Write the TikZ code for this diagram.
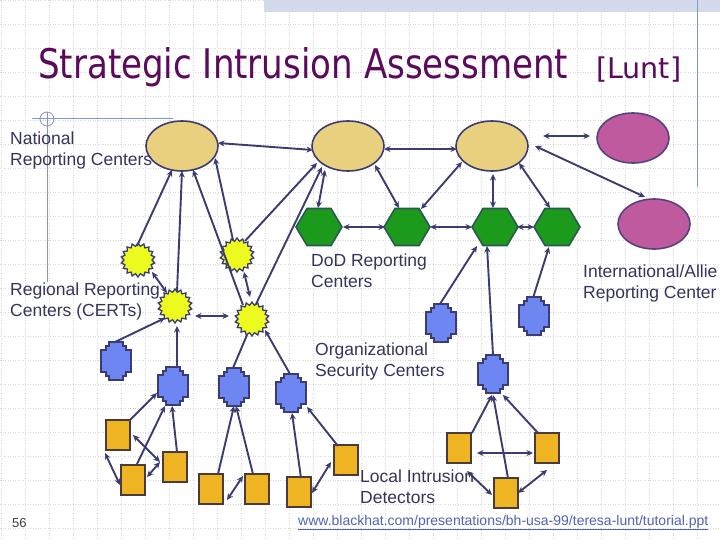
\documentclass[tikz,border=0pt]{standalone}
\usepackage{fontspec}
\setmainfont{Liberation Sans}
\newfontfamily\titlefont{DejaVu Sans}
\usetikzlibrary{shapes.geometric,arrows.meta,calc}
\definecolor{linec}{HTML}{3C3C74}
\definecolor{lblc}{HTML}{35355C}
\definecolor{tanc}{HTML}{E8D07E}
\definecolor{magc}{HTML}{C05A9E}
\definecolor{hexc}{HTML}{1C9A1C}
\definecolor{hexb}{HTML}{2A5A4E}
\definecolor{starc}{HTML}{ECFA1E}
\definecolor{crossc}{HTML}{6E86F2}
\definecolor{sqc}{HTML}{EEB422}
\definecolor{sqb}{HTML}{4A3A3A}
\definecolor{titlec}{HTML}{5C0A5C}
\definecolor{decoc}{HTML}{8494CC}
\definecolor{gridc}{HTML}{DADADA}
\definecolor{barc}{HTML}{D2DAEC}
\definecolor{urlc}{HTML}{5262B6}
\newcommand\hexnode[2]{%
  \node[hexbox] (#1) at (#2) {};
  \draw[hexshape] ($(#1)+(-23,0)$) -- ($(#1)+(-12,-18.5)$) -- ($(#1)+(12,-18.5)$) -- ($(#1)+(23,0)$) -- ($(#1)+(12,18.5)$) -- ($(#1)+(-12,18.5)$) -- cycle;}
\newcommand\crossnode[2]{%
  \node[crossbox] (#1) at (#2) {};
  \draw[crossshape] ($(#1)+(-7,-19)$) -- ($(#1)+(7,-19)$) -- ($(#1)+(7,-15)$) -- ($(#1)+(10,-15)$) -- ($(#1)+(10,-11)$) -- ($(#1)+(15,-11)$) -- ($(#1)+(15,11)$) -- ($(#1)+(10,11)$) -- ($(#1)+(10,15)$) -- ($(#1)+(7,15)$) -- ($(#1)+(7,19)$) -- ($(#1)+(-7,19)$) -- ($(#1)+(-7,15)$) -- ($(#1)+(-10,15)$) -- ($(#1)+(-10,11)$) -- ($(#1)+(-15,11)$) -- ($(#1)+(-15,-11)$) -- ($(#1)+(-10,-11)$) -- ($(#1)+(-10,-15)$) -- ($(#1)+(-7,-15)$) -- cycle;}
\begin{document}
\begin{tikzpicture}[x=1pt,y=-1pt,
  con/.style={draw=linec, line width=1.9pt},
  arr/.style={con, -{Stealth[length=6.5pt,width=6pt]}},
  darr/.style={con, {Stealth[length=6.5pt,width=6pt]}-{Stealth[length=6.5pt,width=6pt]}},
  tanell/.style={ellipse, draw=linec, fill=tanc, line width=1.6pt, minimum width=72pt, minimum height=50pt, inner sep=0pt},
  magell/.style={ellipse, draw=linec!80!magc, fill=magc, line width=1.6pt, minimum width=72pt, minimum height=50pt, inner sep=0pt},
  hexbox/.style={rectangle, minimum width=46pt, minimum height=37pt, inner sep=0pt},
  hexshape/.style={fill=hexc, draw=hexb, line width=1.6pt, line join=miter},
  starnode/.style={star, star points=18, star point ratio=1.22, minimum size=34pt, inner sep=0pt, fill=starc, draw=linec, line width=1.3pt},
  crossbox/.style={rectangle, minimum width=30pt, minimum height=38pt, inner sep=0pt},
  crossshape/.style={fill=crossc, draw=linec, line width=1.6pt},
  sqnode/.style={rectangle, minimum width=24pt, minimum height=30pt, inner sep=0pt, fill=sqc, draw=sqb, line width=1.6pt},
  lbl/.style={anchor=base west, inner sep=0pt, text=lblc, font=\fontsize{17.5}{21}\selectfont},
  gridline/.style={draw=gridc, line width=0.6pt, dash pattern=on 1pt off 1.5pt}
]
\useasboundingbox (0,0) rectangle (720,540);
\clip (0,0) rectangle (720,540);
\fill[white] (0,0) rectangle (720,540);
% background grid
\foreach \gx in {1,25,...,721} \draw[gridline] (\gx,0) -- (\gx,540);
\foreach \gy in {0,24,...,540} \draw[gridline] (0,\gy) -- (720,\gy);
% decorations
\fill[barc] (264,0) rectangle (720,12);
\draw[decoc, line width=1pt] (697,0) -- (697,187);
\draw[decoc, line width=1pt] (32,119) -- (173,119);
\draw[decoc, line width=1pt] (47,112) -- (47,282);
\draw[decoc, line width=0.8pt] (47,119) circle (7);
% title
\node[anchor=base west, inner sep=0pt, text=titlec] (title) at (38,79) {\resizebox{530pt}{31pt}{\titlefont Strategic Intrusion Assessment}};
\node[anchor=base west, inner sep=0pt, text=titlec] (lunt) at (596,79) {\resizebox{85pt}{!}{\titlefont [Lunt]}};
% ellipses
\node[tanell] (E1) at (182,146) {};
\node[tanell] (E2) at (348,146) {};
\node[tanell] (E3) at (492,146) {};
\node[magell] (M1) at (633,138) {};
\node[magell] (M2) at (654,224) {};
% hexagons
\hexnode{H1}{319,227}
\hexnode{H2}{407,227}
\hexnode{H3}{495,227}
\hexnode{H4}{557,227}
% stars
\node[starnode] (S1) at (138,260) {};
\node[starnode] (S2) at (175,306) {};
\node[starnode] (S3) at (237,255) {};
\node[starnode] (S4) at (252,319) {};
% crosses
\crossnode{C1}{116,361}
\crossnode{C2}{173,386}
\crossnode{C3}{234,387}
\crossnode{C4}{291,393}
\crossnode{C5}{441,323}
\crossnode{C6}{534,316}
\crossnode{C7}{493,374}
% squares
\node[sqnode] (Q1) at (118,435) {};
\node[sqnode] (Q2) at (133,480) {};
\node[sqnode] (Q3) at (175,467) {};
\node[sqnode] (Q4) at (211,489) {};
\node[sqnode] (Q5) at (257,489) {};
\node[sqnode] (Q6) at (299,492) {};
\node[sqnode] (Q7) at (346,460) {};
\node[sqnode] (Q8) at (459,448) {};
\node[sqnode] (Q9) at (547,448) {};
\node[sqnode] (Q10) at (506,493) {};
% connectors: ellipses / hexagons
\draw[darr] ($(E1)+(36,-3)$) -- ($(E2)+(-35,4)$);
\draw[darr] ($(E2)+(36,3)$) -- ($(E3)+(-35,3)$);
\draw[darr] ($(E2)+(-23,24)$) -- ($(H1)+(-1,-19)$);
\draw[darr] ($(E2)+(27,19)$) -- ($(H2)+(-8,-19)$);
\draw[darr] ($(E3)+(-30,16)$) -- ($(H2)+(14,-18)$);
\draw[darr] ($(E3)+(1,28)$) -- ($(H3)+(-2,-19)$);
\draw[darr] ($(E3)+(27,17)$) -- ($(H4)+(-7,-19)$);
\coordinate (fa) at (543,136);
\coordinate (fb) at (590,136);
\draw[darr] (fa) -- (fb);
\draw[darr] ($(E3)+(43,0)$) -- ($(M2)+(-9,-27)$);
\draw[darr] ($(H1)+(24,0)$) -- ($(H2)+(-22,0)$);
\draw[darr] ($(H2)+(23,0)$) -- ($(H3)+(-23,0)$);
\draw[darr] ($(H3)+(22,0)$) -- ($(H4)+(-23,0)$);
% stars to ellipses
\draw[arr] ($(S1)+(-1,-14)$) -- ($(E1)+(-10,24)$);
\draw[arr] ($(S2)+(2,-14)$) -- ($(E1)+(0,25)$);
\draw[arr] ($(S4)+(-9,-14)$) -- ($(E1)+(11,24)$);
\draw[arr] ($(S3)+(-4,-15)$) -- ($(E1)+(33,12)$);
\draw[arr] ($(S3)+(8,-14)$) -- ($(E2)+(-31,17)$);
\draw[arr] ($(S4)+(4,-15)$) -- ($(E2)+(-26,21)$);
\draw[darr] ($(S1)+(14,12)$) -- ($(S2)+(-8,-13)$);
\draw[darr] ($(S2)+(20,10)$) -- ($(S4)+(-23,-3)$);
\draw[darr] ($(S3)+(7,17)$) -- ($(S4)+(-2,-22)$);
% crosses to stars / hexagons
\draw[arr] ($(C1)+(-1,-19)$) -- ($(S2)+(-10,12)$);
\draw[arr, line width=1.1pt] ($(C2)+(4,-18)$) -- ($(S2)+(2,20)$);
\draw[con] ($(C3)+(-1,-19)$) -- ($(S4)+(-5,16)$);
\draw[arr] ($(C4)+(-1,-19)$) -- ($(S4)+(13,11)$);
\draw[arr] ($(C5)+(-1,-19)$) -- ($(H3)+(-18,19)$);
\draw[arr] ($(C7)+(0,-19)$) -- ($(H3)+(-8,19)$);
\draw[arr] ($(C6)+(-1,-18)$) -- ($(H4)+(-8,20)$);
% squares to crosses
\draw[arr] ($(Q1)+(12,-15)$) -- ($(C2)+(-16,7)$);
\draw[arr] ($(Q2)+(4,-16)$) -- ($(C2)+(-8,20)$);
\draw[arr] ($(Q3)+(2,-15)$) -- ($(C2)+(-1,20)$);
\draw[darr] ($(Q1)+(15,0)$) -- ($(Q3)+(-15,-5)$);
\draw[darr] ($(Q2)+(14,-3)$) -- ($(Q3)+(-15,-5)$);
\draw[darr] ($(Q1)+(-13,18)$) -- ($(Q2)+(-13,5)$);
\draw[arr] ($(Q4)+(7,-15)$) -- ($(C3)+(0,19)$);
\draw[arr] ($(Q5)+(-4,-15)$) -- ($(C3)+(2,19)$);
\draw[darr] ($(Q4)+(16,11)$) -- ($(Q5)+(-14,-13)$);
\draw[arr] ($(Q6)+(2,-14)$) -- ($(C4)+(1,20)$);
\draw[arr] ($(Q7)+(-8,-14)$) -- ($(C4)+(16,14)$);
\draw[darr] ($(Q6)+(13,1)$) -- ($(Q7)+(-15,2)$);
\draw[arr] ($(Q8)+(13,-15)$) -- ($(C7)+(-1,21)$);
\draw[arr] ($(Q10)+(2,-15)$) -- ($(C7)+(0,21)$);
\draw[arr] ($(Q9)+(-9,-15)$) -- ($(C7)+(10,21)$);
\draw[darr] ($(Q8)+(18,5)$) -- ($(Q9)+(-14,5)$);
\draw[darr] ($(Q8)+(8,23)$) -- ($(Q10)+(-14,2)$);
\draw[darr] ($(Q10)+(12,0)$) -- ($(Q9)+(0,22)$);
% labels
\node[lbl] (l1a) at (10,145) {National};
\node[lbl] (l1b) at (10,166) {Reporting Centers};
\node[lbl] (l2a) at (10,295) {Regional Reporting};
\node[lbl] (l2b) at (10,316) {Centers (CERTs)};
\node[lbl] (l3a) at (311,266) {DoD Reporting};
\node[lbl] (l3b) at (311,287) {Centers};
\node[lbl] (l4a) at (583,277) {International/Allie};
\node[lbl] (l4b) at (583,298) {Reporting Center};
\node[lbl] (l5a) at (315,355) {Organizational};
\node[lbl] (l5b) at (315,376) {Security Centers};
\node[lbl] (l6a) at (360,482) {Local Intrusion};
\node[lbl] (l6b) at (360,503) {Detectors};
\node[anchor=base west, inner sep=0pt, text=black!75, font=\fontsize{13}{15}\selectfont] (pg) at (12,527) {56};
\node[anchor=base west, inner sep=0pt, text=urlc, font=\fontsize{14}{16}\selectfont] (url) at (298,525) {\underline{www.blackhat.com/presentations/bh-usa-99/teresa-lunt/tutorial.ppt}};
\end{tikzpicture}
\end{document}
